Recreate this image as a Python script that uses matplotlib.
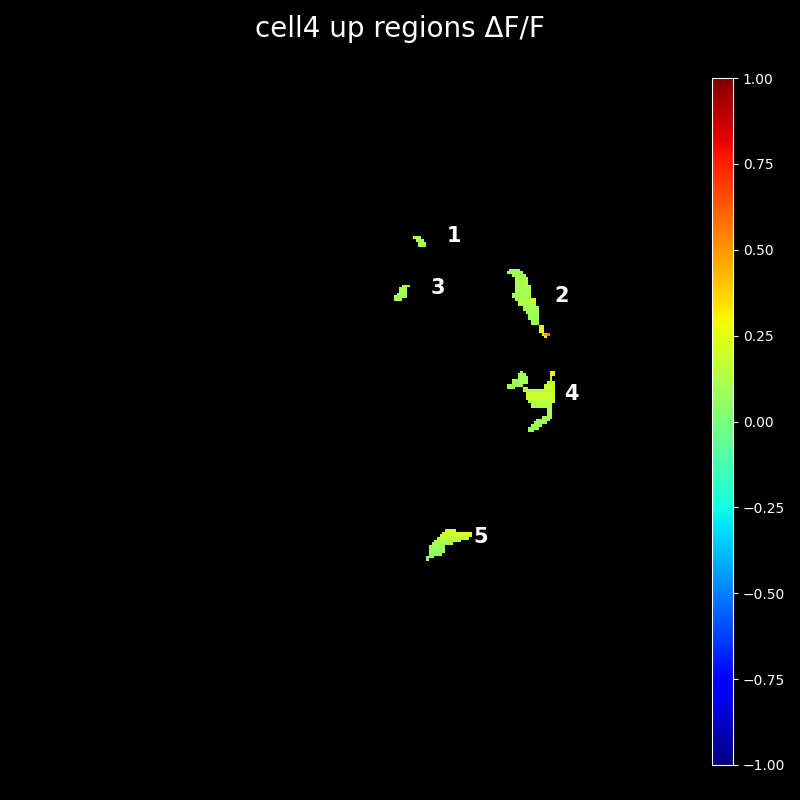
import numpy as np
import matplotlib
matplotlib.use("Agg")
import matplotlib.pyplot as plt
from matplotlib.ticker import FuncFormatter

# image grid size
n_rows = 256
n_cols = 256

# region runs: (row, col_start, col_end, value)
region1 = [(59, 149, 151, 0.12), (60, 150, 152, 0.12), (61, 151, 153, 0.1), (62, 151, 153, 0.1)]
region3 = [(77, 145, 147, 0.12), (78, 144, 146, 0.1), (79, 144, 146, 0.1), (80, 143, 146, 0.1),
           (81, 142, 146, 0.1), (82, 142, 144, 0.1)]
region2 = [(71, 185, 188, 0.08), (72, 184, 189, 0.08), (73, 186, 190, 0.1), (74, 187, 190, 0.1),
           (74, 191, 191, 0.2), (75, 187, 190, 0.12), (75, 191, 191, 0.22), (76, 187, 191, 0.12),
           (77, 187, 192, 0.1), (78, 187, 192, 0.1), (79, 187, 192, 0.1), (80, 186, 192, 0.1),
           (81, 186, 192, 0.1), (82, 187, 192, 0.12), (82, 193, 194, 0.25), (83, 188, 194, 0.15),
           (84, 188, 194, 0.12), (85, 190, 195, 0.1), (86, 190, 195, 0.1), (87, 191, 195, 0.1),
           (88, 192, 195, 0.08), (89, 192, 195, 0.08), (90, 193, 195, 0.08), (91, 193, 195, 0.08),
           (92, 196, 197, 0.2), (93, 196, 197, 0.22), (94, 196, 197, 0.25),
           (95, 197, 197, 0.3), (95, 198, 198, 0.45), (95, 199, 199, 0.55), (96, 198, 198, 0.3)]
region4 = [(109, 189, 189, 0.1), (109, 200, 201, 0.3), (110, 188, 190, 0.1), (110, 200, 201, 0.3),
           (111, 188, 191, 0.1), (111, 200, 200, 0.15), (112, 186, 191, 0.1), (112, 200, 200, 0.15),
           (113, 186, 191, 0.1), (113, 199, 201, 0.15), (114, 184, 189, 0.08), (114, 198, 201, 0.18),
           (115, 184, 186, 0.08), (115, 190, 191, 0.1), (115, 198, 201, 0.2), (116, 190, 201, 0.15),
           (117, 191, 201, 0.18), (118, 191, 201, 0.2), (119, 191, 201, 0.18), (120, 192, 201, 0.15),
           (121, 193, 200, 0.12), (122, 193, 200, 0.12), (123, 199, 200, 0.12), (124, 199, 200, 0.12),
           (125, 199, 200, 0.1), (126, 197, 200, 0.1), (127, 195, 199, 0.1), (128, 194, 198, 0.08),
           (129, 193, 196, 0.08), (130, 192, 195, 0.08), (131, 192, 193, 0.08)]
region5 = [(168, 161, 164, 0.18), (169, 160, 165, 0.2), (169, 166, 170, 0.25), (170, 159, 170, 0.2),
           (171, 158, 169, 0.15), (172, 157, 166, 0.12), (173, 156, 163, 0.1), (174, 155, 160, 0.08),
           (175, 155, 160, 0.08), (176, 155, 160, 0.06), (177, 155, 159, 0.06), (178, 154, 156, 0.06),
           (179, 154, 154, 0.06)]
regions = [region1, region2, region3, region4, region5]

# label ids and positions (col, row)
label_ids = ["1", "2", "3", "4", "5"]
label_cols = [163.7, 204.0, 157.8, 207.7, 173.8]
label_rows = [58.5, 80.8, 77.9, 117.4, 170.6]

title = "cell4 up regions ΔF/F"
vmin, vmax = -1.0, 1.0
cbar_ticks = [-1.0, -0.75, -0.5, -0.25, 0.0, 0.25, 0.5, 0.75, 1.0]

img = np.full((n_rows, n_cols), np.nan)
for reg in regions:
    for r, c0, c1, v in reg:
        img[r, c0:c1 + 1] = v

fig = plt.figure(figsize=(8, 8), dpi=100, facecolor="black")
ax = fig.add_axes([13 / 800, 35 / 800, 687 / 800, 687 / 800])
ax.set_facecolor("black")
cmap = plt.get_cmap("jet").copy()
cmap.set_bad("black")
im = ax.imshow(img, cmap=cmap, vmin=vmin, vmax=vmax, interpolation="nearest")
ax.axis("off")

for t, cx, cy in zip(label_ids, label_cols, label_rows):
    ax.text(cx, cy, t, color="white", fontsize=15, fontweight="bold", ha="center", va="center")

cax = fig.add_axes([712 / 800, 35 / 800, 21 / 800, 687 / 800])
fmt = FuncFormatter(lambda v, pos: f"{v:.2f}".replace("-", "\u2212"))
cb = fig.colorbar(im, cax=cax, ticks=cbar_ticks, format=fmt)
cb.outline.set_edgecolor("white")
cb.ax.tick_params(colors="white", labelsize=10)

fig.text(0.5, 1 - 29 / 800, title, color="white", fontsize=20, ha="center", va="center")

fig.savefig("out.png", dpi=100, facecolor="black")
